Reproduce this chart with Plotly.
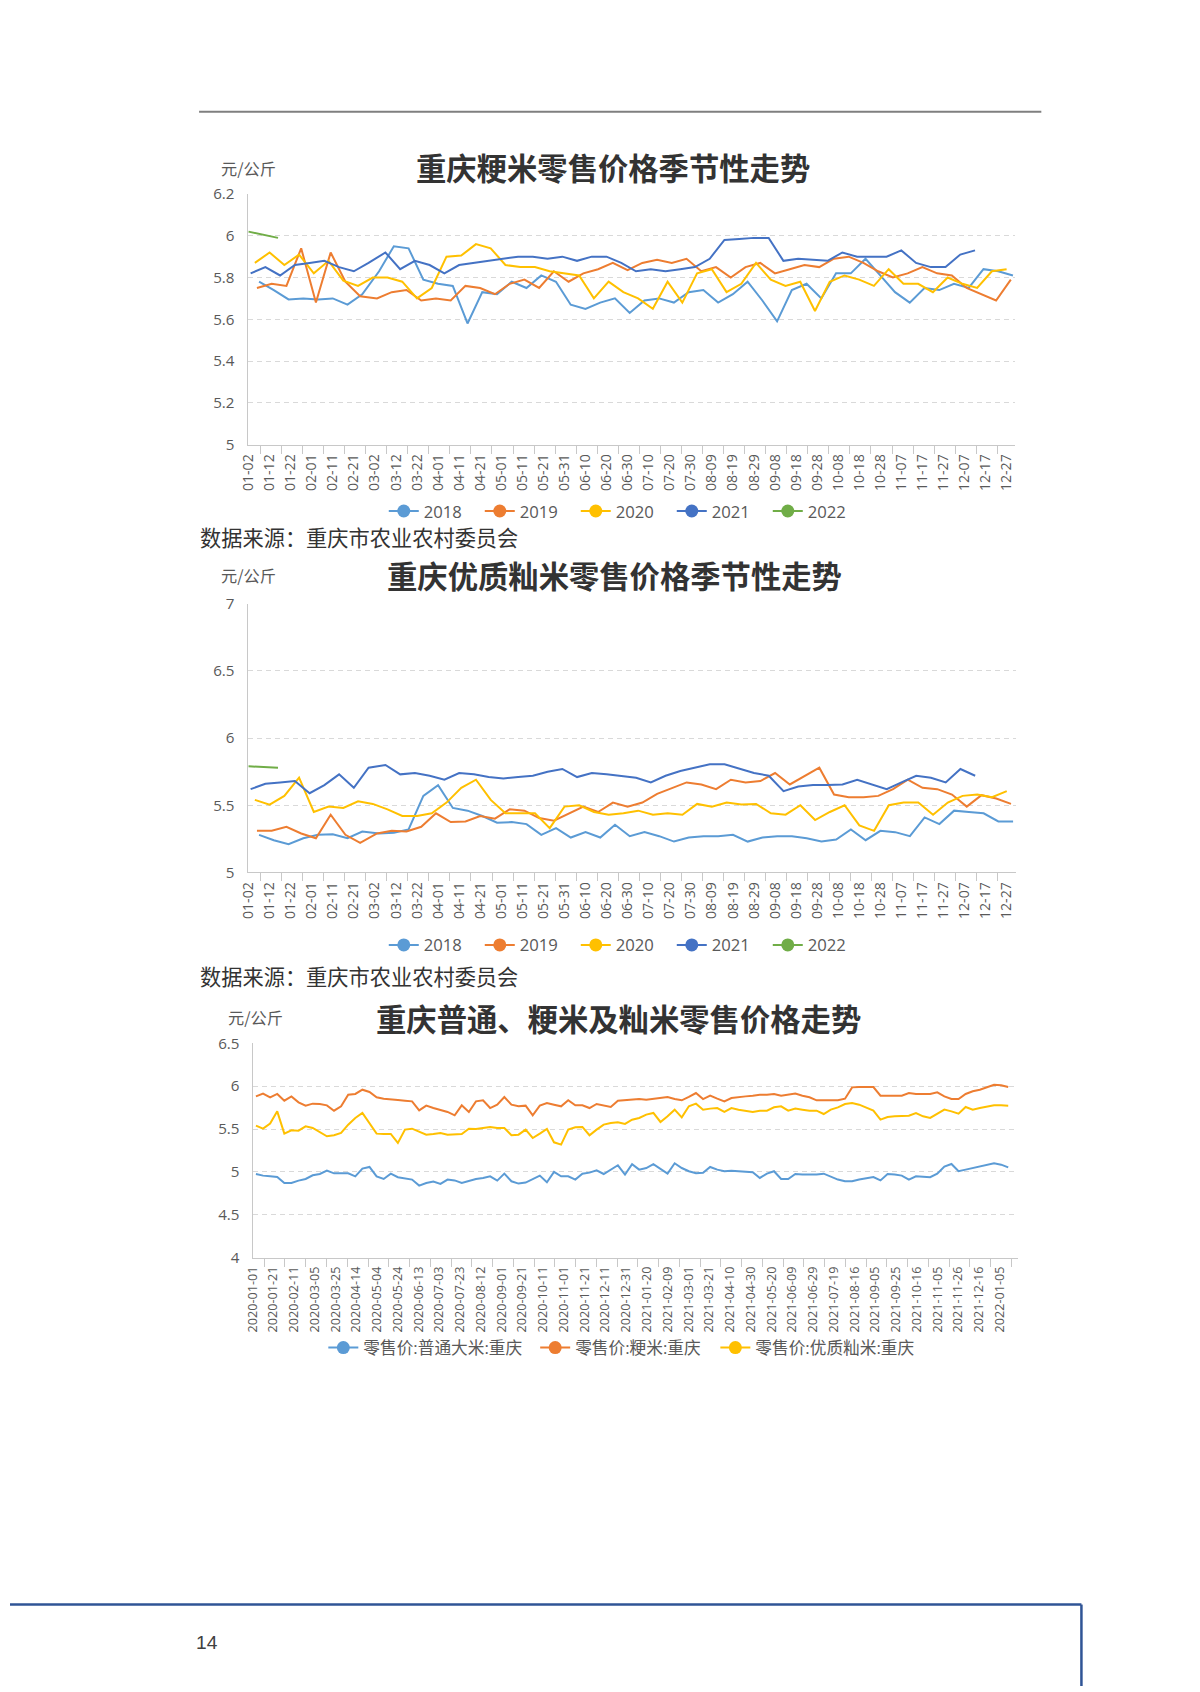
import pandas as pd
import plotly.graph_objects as go

# Target page is 1200 x 1692.  The capture keeps an 8px body margin and shows the
# page at ~0.989 scale, so the figure is laid out in page units * K (plus a small shift).
K = 1.0111
BODY_M = 8
SHIFT_X, SHIFT_Y = -3.5, -2.2
W, H = 1197, 1695

# ---------------- Chart 1 & 2: seasonal weekly data ----------------
season_years = ["2018", "2019", "2020", "2021", "2022"]
season_starts = ["2018-01-07", "2019-01-06", "2020-01-05", "2021-01-03", "2022-01-02"]
season_colors = ["#5b9bd5", "#ed7d31", "#ffc000", "#4472c4", "#70ad47"]

season_ticks = ["01-02", "01-12", "01-22", "02-01", "02-11", "02-21", "03-02", "03-12",
                "03-22", "04-01", "04-11", "04-21", "05-01", "05-11", "05-21", "05-31",
                "06-10", "06-20", "06-30", "07-10", "07-20", "07-30", "08-09", "08-19",
                "08-29", "09-08", "09-18", "09-28", "10-08", "10-18", "10-28", "11-07",
                "11-17", "11-27", "12-07", "12-17", "12-27"]

# 重庆粳米零售价格 (元/公斤)
jm_2018 = [5.78, 5.74, 5.695, 5.70, 5.695, 5.70, 5.67, 5.72, 5.83, 5.95, 5.94, 5.79, 5.77,
           5.76, 5.58, 5.73, 5.72, 5.78, 5.75, 5.81, 5.78, 5.67, 5.65, 5.68, 5.70, 5.63,
           5.69, 5.70, 5.68, 5.73, 5.74, 5.68, 5.72, 5.78, 5.69, 5.59, 5.74, 5.77, 5.70,
           5.82, 5.82, 5.89, 5.81, 5.73, 5.68, 5.75, 5.74, 5.77, 5.75, 5.84, 5.83, 5.81]
jm_2019 = [5.75, 5.77, 5.76, 5.94, 5.68, 5.92, 5.78, 5.71, 5.70, 5.73, 5.74, 5.69, 5.70,
           5.69, 5.76, 5.75, 5.72, 5.77, 5.79, 5.75, 5.83, 5.78, 5.82, 5.84, 5.87, 5.835,
           5.87, 5.885, 5.87, 5.89, 5.83, 5.85, 5.80, 5.85, 5.87, 5.82, 5.84, 5.86, 5.85,
           5.89, 5.90, 5.87, 5.83, 5.80, 5.82, 5.85, 5.82, 5.81, 5.75, 5.72, 5.69, 5.79]
jm_2020 = [5.87, 5.92, 5.86, 5.91, 5.82, 5.88, 5.785, 5.76, 5.80, 5.80, 5.78, 5.70, 5.75,
           5.90, 5.905, 5.96, 5.94, 5.86, 5.85, 5.85, 5.83, 5.82, 5.81, 5.70, 5.78, 5.73,
           5.70, 5.65, 5.78, 5.68, 5.82, 5.84, 5.73, 5.77, 5.87, 5.79, 5.76, 5.78, 5.64,
           5.78, 5.81, 5.79, 5.76, 5.84, 5.77, 5.77, 5.73, 5.80, 5.77, 5.75, 5.83, 5.84]
jm_2021 = [5.82, 5.85, 5.81, 5.86, 5.87, 5.88, 5.85, 5.83, 5.87, 5.92, 5.84, 5.88, 5.86,
           5.82, 5.86, 5.87, 5.88, 5.89, 5.90, 5.90, 5.89, 5.90, 5.88, 5.90, 5.90, 5.87,
           5.83, 5.84, 5.83, 5.84, 5.85, 5.89, 5.98, 5.985, 5.99, 5.99, 5.88, 5.89, 5.885,
           5.88, 5.92, 5.90, 5.90, 5.90, 5.93, 5.87, 5.85, 5.85, 5.91, 5.93]
jm_2022 = [6.02, 6.005, 5.99]

# 重庆优质籼米零售价格 (元/公斤)
xm_2018 = [5.28, 5.24, 5.21, 5.255, 5.28, 5.285, 5.255, 5.305, 5.29, 5.295, 5.32, 5.57,
           5.65, 5.48, 5.46, 5.42, 5.37, 5.375, 5.36, 5.28, 5.33, 5.26, 5.30, 5.26, 5.355,
           5.27, 5.30, 5.27, 5.23, 5.26, 5.27, 5.27, 5.28, 5.23, 5.26, 5.27, 5.27, 5.255,
           5.23, 5.245, 5.32, 5.24, 5.31, 5.30, 5.27, 5.41, 5.36, 5.46, 5.45, 5.44, 5.38, 5.38]
xm_2019 = [5.31, 5.31, 5.34, 5.29, 5.255, 5.43, 5.28, 5.22, 5.29, 5.31, 5.305, 5.34, 5.44,
           5.375, 5.38, 5.42, 5.40, 5.47, 5.46, 5.405, 5.385, 5.44, 5.49, 5.45, 5.52, 5.49,
           5.52, 5.585, 5.63, 5.67, 5.655, 5.62, 5.69, 5.67, 5.68, 5.74, 5.655, 5.72, 5.78,
           5.58, 5.56, 5.56, 5.57, 5.62, 5.69, 5.63, 5.62, 5.58, 5.49, 5.575, 5.55, 5.51]
xm_2020 = [5.54, 5.505, 5.57, 5.705, 5.45, 5.49, 5.48, 5.53, 5.51, 5.47, 5.42, 5.42, 5.44,
           5.52, 5.63, 5.69, 5.54, 5.44, 5.44, 5.44, 5.33, 5.49, 5.50, 5.45, 5.43, 5.44,
           5.46, 5.43, 5.44, 5.43, 5.51, 5.49, 5.52, 5.505, 5.51, 5.44, 5.43, 5.50, 5.39,
           5.45, 5.50, 5.35, 5.31, 5.50, 5.52, 5.52, 5.43, 5.52, 5.57, 5.58, 5.56, 5.605]
xm_2021 = [5.62, 5.66, 5.67, 5.68, 5.59, 5.65, 5.73, 5.63, 5.78, 5.80, 5.73, 5.74, 5.72,
           5.69, 5.74, 5.73, 5.71, 5.70, 5.71, 5.72, 5.75, 5.77, 5.71, 5.74, 5.73, 5.72,
           5.705, 5.67, 5.72, 5.755, 5.78, 5.805, 5.805, 5.77, 5.74, 5.72, 5.605, 5.64,
           5.65, 5.65, 5.655, 5.69, 5.655, 5.62, 5.67, 5.72, 5.705, 5.67, 5.77, 5.72]
xm_2022 = [5.79, 5.785, 5.78]

# ---------------- Chart 3: weekly retail prices 2020-01 .. 2022-01 ----------------
trend_names = ["零售价:普通大米:重庆", "零售价:粳米:重庆", "零售价:优质籼米:重庆"]
trend_colors = ["#5b9bd5", "#ed7d31", "#ffc000"]
trend_ticks = ["2020-01-01", "2020-01-21", "2020-02-11", "2020-03-05", "2020-03-25",
               "2020-04-14", "2020-05-04", "2020-05-24", "2020-06-13", "2020-07-03",
               "2020-07-23", "2020-08-12", "2020-09-01", "2020-09-21", "2020-10-11",
               "2020-11-01", "2020-11-21", "2020-12-11", "2020-12-31", "2021-01-20",
               "2021-02-09", "2021-03-01", "2021-03-21", "2021-04-10", "2021-04-30",
               "2021-05-20", "2021-06-09", "2021-06-29", "2021-07-19", "2021-08-16",
               "2021-09-05", "2021-09-25", "2021-10-16", "2021-11-05", "2021-11-26",
               "2021-12-16", "2022-01-05"]
pt_price = [4.975, 4.956, 4.948, 4.94, 4.87, 4.87, 4.898, 4.917, 4.96, 4.975, 5.014, 4.983,
            4.983, 4.983, 4.948, 5.038, 5.057, 4.948, 4.917, 4.979, 4.937, 4.921, 4.91, 4.84,
            4.87, 4.886, 4.86, 4.91, 4.90, 4.87, 4.898, 4.917, 4.929, 4.948, 4.898, 4.979,
            4.89, 4.863, 4.875, 4.917, 4.956, 4.879, 4.999, 4.948, 4.948, 4.91, 4.979, 4.991,
            5.018, 4.975, 5.026, 5.077, 4.968, 5.09, 5.026, 5.045,
            5.09, 5.03, 4.98, 5.10, 5.045, 5.007, 4.983, 4.99, 5.057, 5.026, 5.007, 5.014,
            5.007, 5.007, 4.995, 4.929, 4.979, 5.007, 4.917, 4.917, 4.975, 4.968, 4.968,
            4.968, 4.979, 4.94, 4.91, 4.89, 4.89, 4.91, 4.929, 4.94, 4.90, 4.975, 4.968,
            4.956, 4.91, 4.948, 4.944, 4.937, 4.979, 5.061, 5.092, 5.007, 5.026, 5.045,
            5.065, 5.084, 5.10, 5.084, 5.053]
jm_price = [5.881, 5.913, 5.87, 5.909, 5.831, 5.881, 5.811, 5.773, 5.796, 5.792, 5.776, 5.714,
            5.765, 5.90, 5.909, 5.959, 5.932, 5.87, 5.854, 5.85, 5.839, 5.831, 5.823, 5.718,
            5.773, 5.745, 5.726, 5.699, 5.66, 5.776, 5.699, 5.823, 5.835, 5.745, 5.784,
            5.874, 5.784, 5.765, 5.773, 5.66, 5.773, 5.804, 5.784, 5.765, 5.835, 5.776,
            5.776, 5.745, 5.792, 5.776, 5.757, 5.831, 5.835, 5.843, 5.85, 5.843,
            5.854, 5.87, 5.874, 5.85, 5.835, 5.874, 5.92, 5.85, 5.889, 5.854, 5.823, 5.862,
            5.874, 5.881, 5.889, 5.90, 5.90, 5.909, 5.889, 5.90, 5.913, 5.889, 5.87, 5.835,
            5.835, 5.835, 5.835, 5.854, 5.986, 5.99, 5.99, 5.99, 5.889, 5.889, 5.889, 5.889,
            5.92, 5.909, 5.909, 5.909, 5.928, 5.881, 5.85, 5.85, 5.909, 5.94, 5.959, 5.99,
            6.017, 6.01, 5.99]
xm_price = [5.539, 5.504, 5.563, 5.706, 5.446, 5.485, 5.481, 5.531, 5.512, 5.465, 5.415, 5.427,
            5.454, 5.551, 5.629, 5.687, 5.57, 5.446, 5.442, 5.442, 5.337, 5.493, 5.504, 5.473,
            5.434, 5.442, 5.454, 5.434, 5.442, 5.442, 5.504, 5.50, 5.512, 5.524, 5.512,
            5.512, 5.427, 5.434, 5.493, 5.395, 5.446, 5.50, 5.345, 5.318, 5.493, 5.52, 5.524,
            5.427, 5.493, 5.551, 5.57, 5.578, 5.559, 5.609, 5.629, 5.668,
            5.687, 5.582, 5.648, 5.726, 5.636, 5.765, 5.796, 5.726, 5.738, 5.745, 5.699,
            5.745, 5.726, 5.714, 5.699, 5.714, 5.714, 5.753, 5.765, 5.714, 5.738, 5.726,
            5.714, 5.714, 5.675, 5.726, 5.753, 5.792, 5.804, 5.784, 5.745, 5.714, 5.609,
            5.64, 5.648, 5.648, 5.656, 5.687, 5.648, 5.629, 5.679, 5.726, 5.706, 5.679,
            5.757, 5.726, 5.745, 5.757, 5.776, 5.776, 5.772]

y1_ticks = [5, 5.2, 5.4, 5.6, 5.8, 6, 6.2]
y1_text = ["5", "5.2", "5.4", "5.6", "5.8", "6", "6.2"]
y2_ticks = [5, 5.5, 6, 6.5, 7]
y2_text = ["5", "5.5", "6", "6.5", "7"]
y3_ticks = [4, 4.5, 5, 5.5, 6, 6.5]
y3_text = ["4", "4.5", "5", "5.5", "6", "6.5"]

# ---------------- helpers ----------------
BASE = pd.Timestamp("2020-01-02")


def season_x(start, n):
    dates = pd.date_range(start, periods=n, freq="7D")
    return [(pd.Timestamp(2020, d.month, d.day) - BASE).days for d in dates]


season_tickvals = [(pd.Timestamp("2020-" + s) - BASE).days for s in season_ticks]


def fx(p):
    # target page x (px) -> paper fraction
    return (K * (p + SHIFT_X) - BODY_M) / W


def fy(p):
    # target page y (px, from top) -> paper fraction
    return 1 - (K * (p + SHIFT_Y) - BODY_M) / H


def fs(s):
    return round(s * K, 2)


NUM_FONT = "Open Sans, Noto Sans CJK SC, sans-serif"
CJK_FONT = "Noto Sans CJK SC, sans-serif"
TXT = "#595959"

fig = go.Figure()

chart1 = [jm_2018, jm_2019, jm_2020, jm_2021, jm_2022]
chart2 = [xm_2018, xm_2019, xm_2020, xm_2021, xm_2022]

for axis_id, series, leg in (("", chart1, "legend"), ("2", chart2, "legend2")):
    for yr, st, col, vals in zip(season_years, season_starts, season_colors, series):
        fig.add_trace(go.Scatter(
            x=season_x(st, len(vals)), y=vals, mode="lines", name=yr,
            line=dict(color=col, width=2), showlegend=False,
            xaxis="x" + axis_id, yaxis="y" + axis_id))
    for yr, col in zip(season_years, season_colors):
        fig.add_trace(go.Scatter(
            x=[None], y=[None], mode="lines+markers", name=yr, legend=leg,
            line=dict(color=col, width=2), marker=dict(color=col, size=13),
            xaxis="x" + axis_id, yaxis="y" + axis_id))

trend_idx = list(range(len(pt_price)))
trend_legends = ["legend3", "legend4", "legend5"]
for name, col, vals in zip(trend_names, trend_colors, [pt_price, jm_price, xm_price]):
    fig.add_trace(go.Scatter(
        x=trend_idx, y=vals, mode="lines", name=name,
        line=dict(color=col, width=2), showlegend=False, xaxis="x3", yaxis="y3"))
for name, col, leg in zip(trend_names, trend_colors, trend_legends):
    fig.add_trace(go.Scatter(
        x=[None], y=[None], mode="lines+markers", name=name, legend=leg,
        line=dict(color=col, width=2), marker=dict(color=col, size=13),
        xaxis="x3", yaxis="y3"))

GRID = "#d9d9d9"
AXC = "#c8c8c8"


def yaxis_cfg(dom, rng, tv, tt, anchor):
    return dict(domain=dom, range=rng, tickmode="array", tickvals=tv, ticktext=tt,
                showgrid=True, gridcolor=GRID, griddash="5px,4px", gridwidth=1,
                zeroline=False, showline=True, linecolor=AXC, linewidth=1,
                ticks="", ticklabelstandoff=9,
                tickfont=dict(family=NUM_FONT, size=fs(15), color=TXT), anchor=anchor,
                fixedrange=True)


def xaxis_cfg(dom, rng, tv, tt, minor0, minordt, anchor, fsize):
    return dict(domain=dom, range=rng, tickmode="array", tickvals=tv, ticktext=tt,
                tickangle=-90, ticks="outside", ticklen=3, tickcolor="rgba(0,0,0,0)",
                minor=dict(tick0=minor0, dtick=minordt, ticks="outside", ticklen=8,
                           tickcolor=AXC, tickwidth=1, showgrid=False),
                showgrid=False, zeroline=False, showline=True, linecolor=AXC,
                linewidth=1, tickfont=dict(family=NUM_FONT, size=fs(fsize), color=TXT),
                anchor=anchor, fixedrange=True)


# chart 3 label positions on the category axis
lab0, lab_step = -0.48, 2.9246
trend_tickvals = [lab0 + lab_step * k for k in range(len(trend_ticks))]

fig.update_layout(
    width=W, height=H, autosize=False,
    margin=dict(l=0, r=0, t=0, b=0, pad=0),
    paper_bgcolor="white", plot_bgcolor="rgba(0,0,0,0)",
    showlegend=True,
    xaxis=xaxis_cfg([fx(248.3), fx(1014)], [-0.48, 364.1], season_tickvals, season_ticks,
                    5.6, 10, "y", 14),
    yaxis=yaxis_cfg([fy(444), fy(193.3)], [5, 6.2], y1_ticks, y1_text, "x"),
    xaxis2=xaxis_cfg([fx(248.3), fx(1015)], [-0.48, 364.5], season_tickvals, season_ticks,
                     5.6, 10, "y2", 14),
    yaxis2=yaxis_cfg([fy(872.3), fy(603.3)], [5, 7], y2_ticks, y2_text, "x2"),
    xaxis3=xaxis_cfg([fx(253.3), fx(1016.7)], [-0.48, 107.37], trend_tickvals, trend_ticks,
                     lab0 + 1.65, lab_step, "y3", 12.5),
    yaxis3=yaxis_cfg([fy(1257.7), fy(1043.3)], [4, 6.5], y3_ticks, y3_text, "x3"),
)

leg_common = dict(orientation="h", xanchor="left", yanchor="middle",
                  bgcolor="rgba(0,0,0,0)", itemwidth=30,
                  font=dict(family=NUM_FONT, size=fs(16.5), color=TXT))
fig.update_layout(
    legend=dict(leg_common, x=fx(384.2), y=fy(510.7), entrywidth=51),
    legend2=dict(leg_common, x=fx(384.2), y=fy(945), entrywidth=51),
    legend3=dict(leg_common, x=fx(323.9), y=fy(1348)),
    legend4=dict(leg_common, x=fx(535.2), y=fy(1348)),
    legend5=dict(leg_common, x=fx(714.9), y=fy(1348)),
)

# titles, units, sources
titles = [("重庆粳米零售价格季节性走势", 613, 166),
          ("重庆优质籼米零售价格季节性走势", 614, 575),
          ("重庆普通、粳米及籼米零售价格走势", 618, 1018)]
for t, cx, cy in titles:
    fig.add_annotation(text="<b>" + t + "</b>", x=fx(cx), y=fy(cy), xref="paper",
                       yref="paper", showarrow=False, xanchor="center", yanchor="middle",
                       font=dict(family=CJK_FONT, size=fs(30), color="#333333"))
for ux, uy in [(220, 167), (220, 575), (227, 1017)]:
    fig.add_annotation(text="元/公斤", x=fx(ux), y=fy(uy), xref="paper", yref="paper",
                       showarrow=False, xanchor="left", yanchor="middle",
                       font=dict(family=CJK_FONT, size=fs(16), color=TXT))
for sy in [536, 975]:
    fig.add_annotation(text="数据来源：重庆市农业农村委员会", x=fx(199), y=fy(sy),
                       xref="paper", yref="paper", showarrow=False, xanchor="left",
                       yanchor="middle",
                       font=dict(family=CJK_FONT, size=fs(21), color="#333333"))
fig.add_annotation(text="14", x=fx(208), y=fy(1643), xref="paper", yref="paper",
                   showarrow=False, xanchor="center", yanchor="middle",
                   font=dict(family="Liberation Sans Narrow, Liberation Sans, sans-serif",
                             size=fs(19), color="#404040"))

# page decorations
fig.add_shape(type="line", xref="paper", yref="paper", x0=fx(200), x1=fx(1040),
              y0=fy(111), y1=fy(111), line=dict(color="#7f7f7f", width=2))
fig.add_shape(type="line", xref="paper", yref="paper", x0=0, x1=fx(1080),
              y0=fy(1605), y1=fy(1605), line=dict(color="#2f5496", width=2.5))
fig.add_shape(type="line", xref="paper", yref="paper", x0=fx(1080), x1=fx(1080),
              y0=fy(1605), y1=0, line=dict(color="#2f5496", width=2.5))

fig.write_html("out.html")
